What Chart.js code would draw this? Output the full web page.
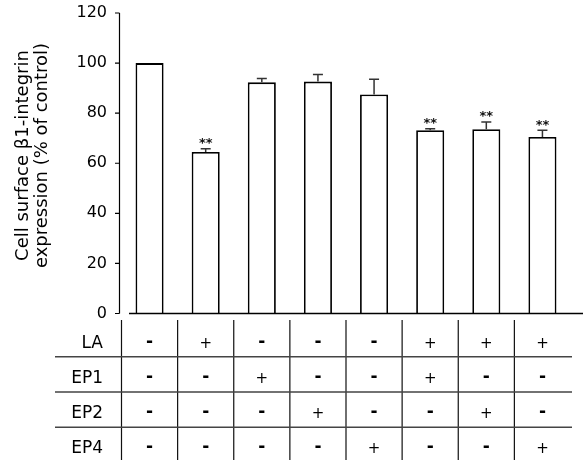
<!DOCTYPE html>
<html><head><meta charset="utf-8">
<script src="https://cdn.jsdelivr.net/npm/chart.js@4/dist/chart.umd.min.js"></script>
<style>html,body{margin:0;padding:0;background:#fff;} canvas{display:block;}</style>
</head><body>
<canvas id="c" width="583" height="460"></canvas>
<script>
const categories = ['Control','LA','EP1','EP2','EP4','LA+EP1','LA+EP2','LA+EP4'];
const expression = [100, 64.5, 92.3, 92.6, 87.5, 73.2, 73.6, 70.5];
const sem = [0, 1.3, 1.5, 2.8, 6.0, 0.6, 2.9, 2.7];
const significance = ['', '**', '', '', '', '**', '**', '**'];
const yTicks = [0, 20, 40, 60, 80, 100, 120];
const rowLabels = ['LA', 'EP1', 'EP2', 'EP4'];
const rowLA  = ['-','+','-','-','-','+','+','+'];
const rowEP1 = ['-','-','+','-','-','+','-','-'];
const rowEP2 = ['-','-','-','+','-','-','+','-'];
const rowEP4 = ['-','-','-','-','+','-','-','+'];
const yTitle = ['Cell surface \u03b21-integrin', 'expression (% of control)'];

const tableRows = [rowLA, rowEP1, rowEP2, rowEP4];
const FONT = 'DejaVu Sans';

const extras = {
  id: 'extras',
  afterDraw(chart) {
    const ctx = chart.ctx;
    const ca = chart.chartArea;
    const xs = chart.scales.x, ys = chart.scales.y;
    ctx.save();
    // y axis line (offset) and ticks
    const ax = ca.left - 2;
    ctx.strokeStyle = '#000';
    ctx.lineWidth = 1.2;
    ctx.beginPath();
    ctx.moveTo(ax, ys.getPixelForValue(yTicks[yTicks.length - 1]));
    ctx.lineTo(ax, ys.getPixelForValue(0));
    yTicks.forEach(v => {
      const py = ys.getPixelForValue(v);
      ctx.moveTo(ax - 4.5, py);
      ctx.lineTo(ax, py);
    });
    ctx.stroke();
    // x axis line
    ctx.beginPath();
    ctx.lineWidth = 1.5;
    ctx.moveTo(ca.left + 7.5, ca.bottom);
    ctx.lineTo(chart.width, ca.bottom);
    ctx.stroke();

    // error bars and significance marks
    const meta = chart.getDatasetMeta(0);
    meta.data.forEach((bar, i) => {
      const top = ys.getPixelForValue(expression[i]);
      const et = ys.getPixelForValue(expression[i] + sem[i]);
      if (sem[i] > 0) {
        ctx.strokeStyle = '#333';
        ctx.lineWidth = 1.5;
        ctx.beginPath();
        ctx.moveTo(bar.x, top);
        ctx.lineTo(bar.x, et);
        ctx.moveTo(bar.x - 5, et);
        ctx.lineTo(bar.x + 5, et);
        ctx.stroke();
      }
      if (significance[i]) {
        ctx.fillStyle = '#111';
        ctx.font = 'bold 13px "' + FONT + '"';
        ctx.textAlign = 'center';
        ctx.textBaseline = 'alphabetic';
        ctx.fillText(significance[i], bar.x, et - 1.5);
      }
    });

    // table
    const band = xs.getPixelForValue(1) - xs.getPixelForValue(0);
    ctx.strokeStyle = '#111';
    ctx.lineWidth = 1.2;
    ctx.beginPath();
    for (let i = 0; i < categories.length; i++) {
      const bx = xs.getPixelForValue(i) - band / 2;
      ctx.moveTo(bx, ca.bottom + 6.5);
      ctx.lineTo(bx, chart.height);
    }
    ctx.stroke();
    ctx.strokeStyle = '#444';
    ctx.lineWidth = 1.5;
    ctx.beginPath();
    for (let r = 0; r < rowLabels.length - 1; r++) {
      const hy = ca.bottom + 43.2 + 35.3 * r;
      ctx.moveTo(55, hy);
      ctx.lineTo(ca.right + 1.5, hy);
    }
    ctx.stroke();

    ctx.fillStyle = '#000';
    ctx.textBaseline = 'alphabetic';
    rowLabels.forEach((lab, r) => {
      const base = ca.bottom + 34 + 35.1 * r;
      ctx.font = '17px "' + FONT + '"';
      ctx.textAlign = 'right';
      ctx.fillText(lab, 103, base);
      ctx.textAlign = 'center';
      tableRows[r].forEach((s, i) => {
        const cx = xs.getPixelForValue(i);
        if (s === '+') {
          ctx.font = '15px "' + FONT + '"';
          ctx.fillText('+', cx, base + 0.5);
        } else {
          ctx.font = 'bold 17px "' + FONT + '"';
          ctx.fillText('-', cx, base - 0.5);
        }
      });
    });

    // y axis title
    ctx.font = '18px "' + FONT + '"';
    ctx.textAlign = 'center';
    ctx.textBaseline = 'alphabetic';
    ctx.fillStyle = '#000';
    const cy = 155.5;
    [28, 47].forEach((bx, k) => {
      ctx.save();
      ctx.translate(bx, cy);
      ctx.rotate(-Math.PI / 2);
      ctx.fillText(yTitle[k], 0, 0);
      ctx.restore();
    });
    ctx.restore();
  }
};

new Chart(document.getElementById('c'), {
  type: 'bar',
  data: {
    labels: categories,
    datasets: [{
      data: expression,
      backgroundColor: '#ffffff',
      borderColor: '#000000',
      borderWidth: 1.8,
      barPercentage: 0.5,
      categoryPercentage: 1.0
    }]
  },
  options: {
    responsive: false,
    animation: false,
    events: [],
    layout: { padding: { top: 13, right: 12.5, left: 0, bottom: 0 } },
    plugins: { legend: { display: false }, tooltip: { enabled: false }, title: { display: false } },
    scales: {
      x: {
        type: 'category',
        offset: true,
        grid: { display: false, drawTicks: false },
        border: { display: false },
        ticks: { display: false },
        afterFit: s => { s.height = 146.5; }
      },
      y: {
        min: 0, max: 120,
        afterBuildTicks: s => { s.ticks = yTicks.map(v => ({ value: v })); },
        grid: { display: true, drawOnChartArea: false, drawTicks: true, tickLength: 14.5, tickColor: 'rgba(0,0,0,0)', color: 'rgba(0,0,0,0)' },
        border: { display: false },
        ticks: { color: '#000', padding: 0, font: { family: FONT, size: 16 } },
        afterFit: s => { s.width = 121.5; }
      }
    }
  },
  plugins: [extras]
});
</script>
</body></html>
